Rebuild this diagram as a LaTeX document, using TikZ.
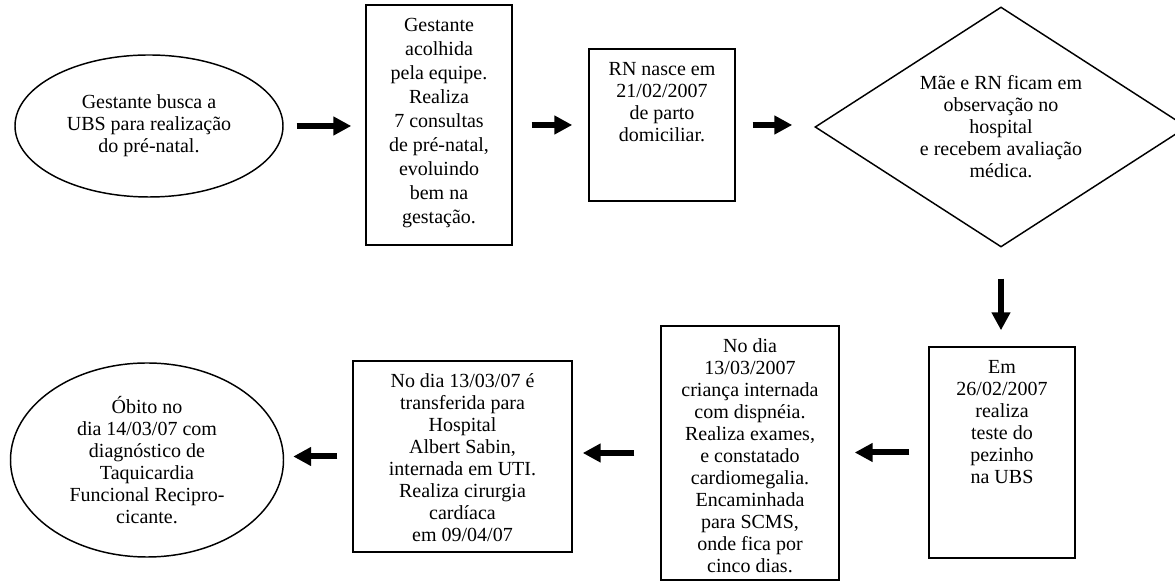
\documentclass[tikz,border=0pt]{standalone}
\usepackage{fontspec}
\setmainfont{Liberation Serif}
\usetikzlibrary{shapes.geometric,arrows.meta}
\newcommand{\caixatxt}[3]{\parbox[c][#2][t]{#1}{\centering\rule{0pt}{20pt}#3}}

\begin{document}
\begin{tikzpicture}[x=0.75pt,y=0.75pt,
    every node/.style={font=\fontsize{15pt}{16.5pt}\selectfont},
    etapa/.style={draw,line width=1.1pt,inner sep=0pt},
    oval/.style={draw,ellipse,line width=1.1pt,inner sep=0pt,align=center},
    seta/.style={line width=4.5pt,-{Triangle[length=13.5pt,width=13.5pt]}}]
\useasboundingbox (0,0) rectangle (1175,585);
% top row
\node[oval,minimum width=201pt,minimum height=106.5pt] (busca) at (149,459)
    {Gestante busca a\\UBS para realização\\do pré-natal.};
\node[etapa,font=\fontsize{15pt}{18pt}\selectfont] (acolhida) at (439,460) {\caixatxt{109.5pt}{180pt}{Gestante\\acolhida\\pela equipe.\\Realiza\\7 consultas\\de pré-natal,\\evoluindo\\bem na\\gestação.}};
\node[etapa] (nasce) at (662,460) {\caixatxt{109.5pt}{114pt}{RN nasce em\\21/02/2007\\de parto\\domiciliar.}};
\node[draw,diamond,line width=1.1pt,inner sep=0pt,shape aspect=1.55,
    minimum width=279pt,minimum height=180pt,align=center] (observa) at (1001,458)
    {Mãe e RN ficam em\\observação no\\hospital\\e recebem avaliação\\médica.};
% bottom row
\node[etapa] (pezinho) at (1002,132.5) {\caixatxt{109.5pt}{158.25pt}{Em\\26/02/2007\\realiza\\teste do\\pezinho\\na UBS}};
\node[etapa] (internada) at (750,132) {\caixatxt{133.5pt}{190.5pt}{No dia\\13/03/2007\\criança internada\\com dispnéia.\\Realiza exames,\\e constatado\\cardiomegalia.\\Encaminhada\\para SCMS,\\onde fica por\\cinco dias.}};
\node[etapa] (sabin) at (462.5,128.5) {\caixatxt{164.25pt}{143.25pt}{No dia 13/03/07 é\\transferida para\\Hospital\\Albert Sabin,\\internada em UTI.\\Realiza cirurgia\\cardíaca\\em 09/04/07}};
\node[oval,minimum width=204.75pt,minimum height=145.5pt] (obito) at (147,125)
    {Óbito no\\dia 14/03/07 com\\diagnóstico de\\Taquicardia\\Funcional Recipro-\\cicante.};
% arrows
\draw[seta,shorten <=9.75pt,shorten >=10.5pt] (busca.east) -- (busca.east -| acolhida.west);
\draw[seta,shorten <=14.25pt,shorten >=12pt] (acolhida.east) -- (acolhida.east -| nasce.west);
\draw[seta,shorten <=12.75pt,shorten >=16.5pt] (nasce.east) -- (nasce.east -| observa.west);
\draw[seta,shorten <=23.25pt,shorten >=12pt] (observa.south) -- (observa.south |- pezinho.north);
\draw[seta,shorten <=14.25pt,shorten >=11.25pt] (pezinho.west) -- (pezinho.west -| internada.east);
\draw[seta,shorten <=19.5pt,shorten >=7.5pt] (internada.west) -- (internada.west -| sabin.east);
\draw[seta,shorten <=11.25pt,shorten >=6.75pt] (sabin.west) -- (sabin.west -| obito.east);
\end{tikzpicture}
\end{document}
